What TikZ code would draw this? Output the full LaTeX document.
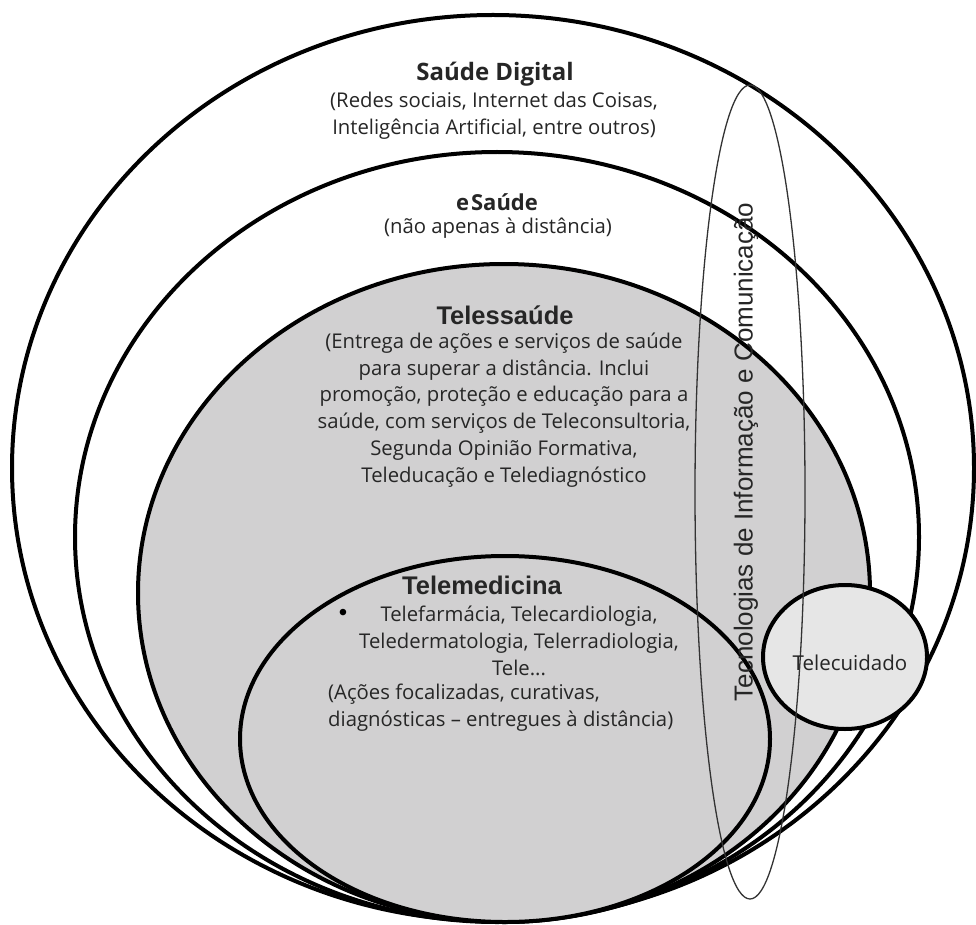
\documentclass[tikz,border=0pt]{standalone}
\usepackage{fontspec}
\setmainfont{Open Sans}
\newfontfamily\arialf{Liberation Sans}
\definecolor{tsgray}{RGB}{209,208,209}
\definecolor{tcgray}{RGB}{230,230,230}
\definecolor{txt}{RGB}{38,38,38}
\begin{document}
\begin{tikzpicture}[x=1pt,y=-1pt,
  ring/.style={draw=black,line width=4pt},
  thinring/.style={draw=black!80,line width=1.3pt},
  body/.style={font=\fontsize{20.3}{26.7}\selectfont, align=center, text=txt, inner sep=0pt},
  titleA/.style={font=\fontsize{24}{26}\selectfont\bfseries, text=txt, inner sep=0pt},
  titleB/.style={font=\arialf\fontsize{25.5}{28}\selectfont\bfseries, text=txt, inner sep=0pt}
]
\useasboundingbox (0,0) rectangle (976,925);
% nested ellipses
\draw[ring, fill=white] (493,468) ellipse [x radius=481, y radius=453];
\draw[ring, fill=white] (497,537) ellipse [x radius=422, y radius=385];
\draw[ring, fill=tsgray] (504,593) ellipse [x radius=366, y radius=329];
\draw[ring, fill=tsgray] (505,739) ellipse [x radius=265, y radius=183];
% Telecuidado circle
\draw[ring, fill=tcgray] (845,657) ellipse [x radius=82, y radius=72];
% TIC ellipse
\draw[thinring] (750,492) ellipse [x radius=55, y radius=407];

% texts
\node[titleA] (sd) at (495,74) {Saúde Digital};
\node[body] (sdt) at (494,116) {(Redes sociais, Internet das Coisas,\\Inteligência Artificial, entre outros)};
\node[titleA, font=\fontsize{22}{26}\selectfont\bfseries] (es) at (497,202) {e\kern2pt Saúde};
\node[body] (est) at (498,228) {(não apenas à distância)};
\node[titleB] (ts) at (505,315) {Telessaúde};
\node[body] (tst) at (504,410) {(Entrega de ações e serviços de saúde\\para superar a distância. Inclui\\promoção, proteção e educação para a\\saúde, com serviços de Teleconsultoria,\\Segunda Opinião Formativa,\\Teleducação e Telediagnóstico};
\node[titleB] (tm) at (482,585) {Telemedicina};
\node[body, font=\arialf\fontsize{24}{26}\selectfont, text=black] (bul) at (343,615) {\textbullet};
\node[body] (tml) at (519,641) {Telefarmácia, Telecardiologia,\\Teledermatologia, Telerradiologia,\\Tele...};
\node[body, align=left, anchor=west] (tmt) at (328,708) {(Ações focalizadas, curativas,\\diagnósticas – entregues à distância)};
\node[font=\arialf\fontsize{26}{28}\selectfont, text=txt, rotate=90, inner sep=0pt] (tic) at (746,452) {Tecnologias de Informação e Comunicação};
\node[body, font=\fontsize{20.5}{22}\selectfont] (tc) at (850,663) {Telecuidado};
\end{tikzpicture}
\end{document}
